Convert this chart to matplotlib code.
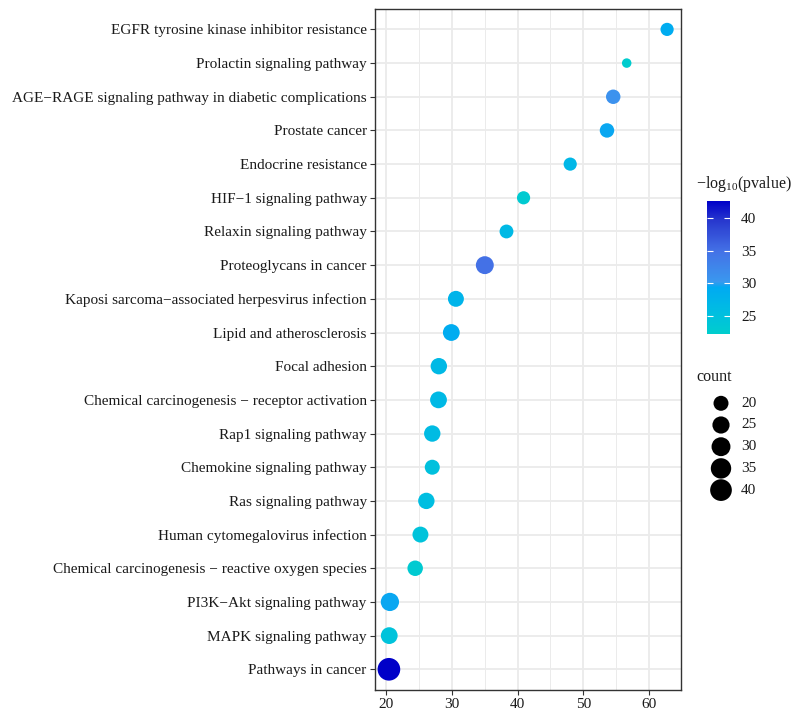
import numpy as np
import matplotlib
matplotlib.use("Agg")
import matplotlib.pyplot as plt
from matplotlib.colors import LinearSegmentedColormap, Normalize
from matplotlib.cm import ScalarMappable

plt.rcParams["font.family"] = ["Liberation Serif", "DejaVu Serif"]
plt.rcParams["mathtext.fontset"] = "custom"
plt.rcParams["mathtext.rm"] = "Liberation Serif"
plt.rcParams["mathtext.it"] = "Liberation Serif:italic"

# Enriched pathways, listed bottom to top
pathways = [
    "Pathways in cancer",
    "MAPK signaling pathway",
    "PI3K\u2212Akt signaling pathway",
    "Chemical carcinogenesis \u2212 reactive oxygen species",
    "Human cytomegalovirus infection",
    "Ras signaling pathway",
    "Chemokine signaling pathway",
    "Rap1 signaling pathway",
    "Chemical carcinogenesis \u2212 receptor activation",
    "Focal adhesion",
    "Lipid and atherosclerosis",
    "Kaposi sarcoma\u2212associated herpesvirus infection",
    "Proteoglycans in cancer",
    "Relaxin signaling pathway",
    "HIF\u22121 signaling pathway",
    "Endocrine resistance",
    "Prostate cancer",
    "AGE\u2212RAGE signaling pathway in diabetic complications",
    "Prolactin signaling pathway",
    "EGFR tyrosine kinase inhibitor resistance",
]
xvalue = [20.4, 20.45, 20.55, 24.4, 25.2, 26.1, 27.0, 27.0, 27.95, 28.0,
          29.9, 30.6, 35.0, 38.3, 40.9, 48.0, 53.6, 54.55, 56.6, 62.75]
neglog10p = [42.7, 24.5, 29.5, 23.0, 24.5, 25.5, 25.0, 26.0, 26.5, 26.5,
             29.0, 27.5, 35.0, 26.5, 23.0, 27.0, 29.5, 31.0, 22.5, 29.0]
count = [44, 24, 28, 21, 22, 23, 20, 23, 24, 23,
         24, 22, 27, 18, 17, 17, 19, 19, 14, 17]
count_breaks = [20, 25, 30, 35, 40]
color_ticks = [25, 30, 35, 40]

cmin, cmax = 13.9, 45.5
pmin, pmax = 22.2, 42.7
FS = 11


def marker_area(c):
    # area scale: diameter grows with sqrt of the rescaled count
    c = np.asarray(c, dtype=float)
    t = np.clip((c - cmin) / (cmax - cmin), 0, 1)
    d_px = 8.7 + 14.3 * np.sqrt(t)
    return (d_px * 0.72) ** 2


cmap = LinearSegmentedColormap.from_list(
    "tealblue",
    [(0.0, "#00CDCD"), (0.17, "#00BDE2"), (0.35, "#00AAF2"),
     (0.39, "#3A98EF"), (0.62, "#4472E6"), (0.85, "#2838CE"), (1.0, "#0000C8")])
norm = Normalize(vmin=pmin, vmax=pmax)

W, H = 799, 712
fig = plt.figure(figsize=(W / 100, H / 100), dpi=100)


def rect(x0, y0, x1, y1):
    return [x0 / W, 1 - y1 / H, (x1 - x0) / W, (y1 - y0) / H]


ax = fig.add_axes(rect(375, 9.2, 681, 689.5))
ypos = np.arange(len(pathways))
ax.scatter(xvalue, ypos, s=marker_area(count), c=neglog10p, cmap=cmap, norm=norm,
           linewidths=0, zorder=3)

span = max(xvalue) - min(xvalue)
ax.set_xlim(min(xvalue) - 0.05 * span, max(xvalue) + 0.05 * span)
ax.set_ylim(-0.6, len(pathways) - 0.4)
ax.set_xticks([20, 30, 40, 50, 60])
ax.set_xticks([25, 35, 45, 55], minor=True)
ax.set_yticks(ypos)
ax.set_yticklabels(pathways)
ax.grid(True, which="major", color="#EBEBEB", linewidth=1.3)
ax.grid(True, which="minor", axis="x", color="#EBEBEB", linewidth=0.7)
ax.set_axisbelow(True)
ax.tick_params(which="major", length=3.5, width=0.8, color="#333333",
               labelsize=FS, labelcolor="#1a1a1a", pad=2.5)
ax.tick_params(which="minor", length=0)
for sp in ax.spines.values():
    sp.set_color("#333333")
    sp.set_linewidth(1.0)

# colour key
fig.text(696 / W, 1 - 184 / H, r"$\mathregular{-log_{10}}$(pvalue)", fontsize=FS + 0.5,
         ha="left", va="center", color="#1a1a1a")
cax = fig.add_axes(rect(707, 200.7, 730, 334))
cb = fig.colorbar(ScalarMappable(norm=norm, cmap=cmap), cax=cax)
cb.outline.set_visible(False)
cb.set_ticks(color_ticks)
cax.tick_params(direction="in", left=True, right=True, length=4.5, width=0.8,
                color="white", labelsize=FS, labelcolor="#1a1a1a", pad=8)

# size key
fig.text(696 / W, 1 - 377 / H, "count", fontsize=FS + 0.5, ha="left", va="center",
         color="#1a1a1a")
kax = fig.add_axes(rect(697, 390, 799, 505))
kax.set_xlim(697, 799)
kax.set_ylim(505, 390)
kax.axis("off")
key_y = 403.3 + np.arange(len(count_breaks)) * 21.7
kax.scatter(np.full(len(count_breaks), 721.0), key_y, s=marker_area(count_breaks),
            color="black", linewidths=0)
for yy, b in zip(key_y, count_breaks):
    kax.text(741, yy, str(b), fontsize=FS, ha="left", va="center", color="#1a1a1a")

fig.savefig("out.png", dpi=100)
